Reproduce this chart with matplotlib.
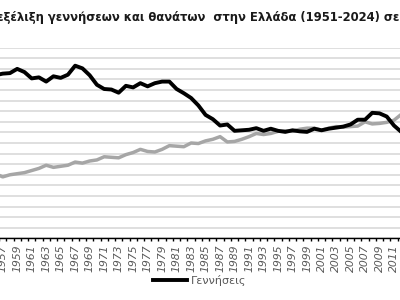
import matplotlib
matplotlib.use('Agg')
import matplotlib.pyplot as plt
from matplotlib.ticker import FixedLocator, MultipleLocator
from matplotlib.lines import Line2D

# ---- data (thousands) ----
years = list(range(1956, 2014))
births = [154, 155.5, 156, 160, 157, 151, 152, 148, 153, 151.5,
          154.5, 163, 160.5, 154, 145, 141, 140.5, 137.5, 144, 142.5,
          146.5, 143.5, 146.5, 148, 148, 141, 137, 132.5, 125.5, 116.5,
          112.5, 106.5, 107.5, 101.5, 102, 102.5, 104, 101.5, 103.5, 101.5,
          100.5, 102, 101, 100.5, 103.5, 102, 103.5, 104.5, 105.5, 107.5,
          112, 112, 118.5, 118, 115, 106.5, 100.5, 94]
deaths = [61, 58, 60, 61, 62, 64, 66, 69, 67, 68,
          69, 72, 71, 73, 74, 77, 76.5, 76, 79, 81,
          84, 82, 81.5, 84, 87.5, 87, 86.5, 90, 89.5, 92,
          93.5, 96, 91, 91.5, 93.5, 96, 99, 98, 99, 101,
          101.5, 101, 103, 104, 104, 102, 104, 105.5, 105, 105.5,
          106, 110, 108, 108.5, 109.5, 111.5, 117, 112]
tick_years = list(range(1957, 2012, 2))
title = "εξέλιξη γεννήσεων και θανάτων  στην Ελλάδα (1951-2024) σε"
legend_label = "Γεννήσεις"

W, H = 400, 300
fig = plt.figure(figsize=(4, 3), dpi=100)

# axes extend beyond the (cropped) canvas
x0, x1 = -44.4, 491.8
yb, yt = 238.3, 47.7
ax = fig.add_axes([x0 / W, 1 - yb / H, (x1 - x0) / W, (yb - yt) / H])
ax.set_xlim(1950.5, 2024.5)
ax.set_ylim(0, 180)

ax.yaxis.set_major_locator(MultipleLocator(10))
ax.grid(axis='y', color='#d9d9d9', linewidth=1.2)
ax.set_axisbelow(True)
ax.tick_params(axis='y', left=False, labelleft=False)
for s in ['left', 'right', 'top']:
    ax.spines[s].set_visible(False)
ax.spines['bottom'].set_color('#000000')
ax.spines['bottom'].set_linewidth(1.0)

ax.xaxis.set_major_locator(FixedLocator(tick_years))
ax.set_xticklabels([str(y) for y in tick_years], rotation=90,
                   fontsize=7.8, style='italic', color='#595959',
                   family='DejaVu Sans')
ax.tick_params(axis='x', which='major', length=0, pad=4.5)
ax.xaxis.set_minor_locator(FixedLocator([y + 0.5 for y in range(1950, 2025)]))
ax.tick_params(axis='x', which='minor', length=2.5, width=1.0, color='#000000', direction='out')

ax.plot(years, deaths, color='#a6a6a6', linewidth=2.5, solid_capstyle='round', clip_on=False)
ax.plot(years, births, color='#000000', linewidth=2.8, solid_capstyle='round', clip_on=False)

# title sized to fit the visible span
fig.canvas.draw()
r = fig.canvas.get_renderer()
t = fig.text(-3 / W, 1 - 20.5 / H, title, fontsize=10, fontweight='bold',
             color='#1a1a1a', ha='left', va='baseline', family='DejaVu Sans')
wpx = t.get_window_extent(r).width
t.set_fontsize(10 * 405 / wpx)

leg = fig.legend(handles=[Line2D([0], [0], color='#000000', linewidth=2.8)],
                 labels=[legend_label], loc='center left',
                 bbox_to_anchor=(153 / W, 1 - 280 / H), frameon=False,
                 fontsize=8, handlelength=3.1, handletextpad=0.35,
                 borderpad=0, borderaxespad=0)
for tx in leg.get_texts():
    tx.set_color('#595959')

fig.savefig('out.png', dpi=100)
